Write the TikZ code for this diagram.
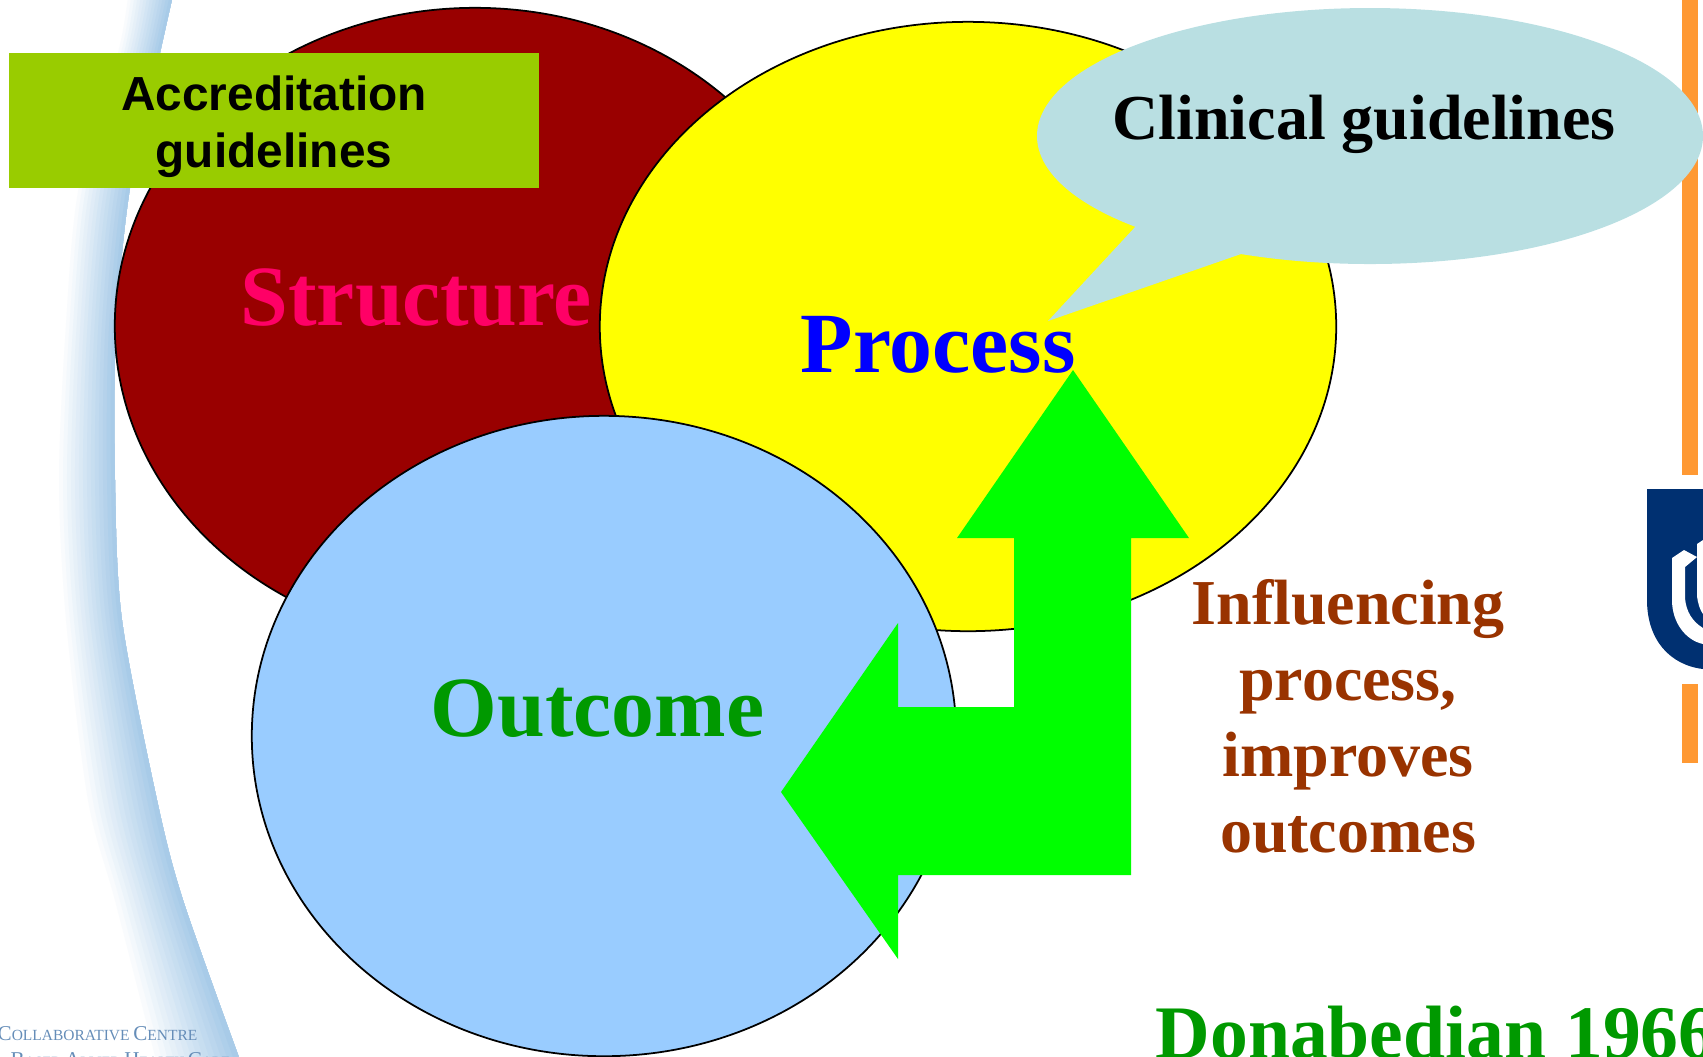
\documentclass[tikz,border=0pt]{standalone}
\usepackage{fontspec}
\setmainfont{Liberation Serif}
\newfontfamily\arialfont{Liberation Sans}
\usetikzlibrary{shapes,calc,positioning}

\definecolor{darkred}{HTML}{990000}
\definecolor{rosetext}{HTML}{FF0066}
\definecolor{brightyellow}{HTML}{FFFF00}
\definecolor{skyblue}{HTML}{99CCFF}
\definecolor{leafgreen}{HTML}{009900}
\definecolor{limegreen}{HTML}{00FF00}
\definecolor{olivebox}{HTML}{99CC00}
\definecolor{paleteal}{HTML}{B9DFE2}
\definecolor{rusttext}{HTML}{993300}
\definecolor{barorange}{HTML}{FF9933}
\definecolor{shieldblue}{HTML}{003071}
\definecolor{swooshblue}{HTML}{A8CBE8}

\newcommand{\footcap}[1]{{\fontsize{6}{6}\selectfont #1}}

\tikzset{
	circlebox/.style={ellipse,draw=black,line width=0.5pt,inner sep=0pt},
	biglabel/.style={font=\fontsize{24.4}{24.4}\selectfont\bfseries,anchor=base west,inner sep=0pt},
	midlabel/.style={font=\fontsize{18.2}{21.9}\selectfont\bfseries,align=center,inner sep=0pt},
	footlabel/.style={anchor=base west,inner sep=0pt,text=swooshblue!60!shieldblue}
}

\begin{document}
\begin{tikzpicture}[x=0.01cm,y=-0.01cm]
	\useasboundingbox (0,0) rectangle (1703,1056);
	\clip (0,0) rectangle (1703,1056);

	% swoosh at the left
	\foreach \k in {0,...,14}{
		\pgfmathsetmacro{\f}{\k/15}
		\pgfmathsetmacro{\m}{\k*100/14}
		\fill[swooshblue!\m!white] plot[smooth] coordinates {(173,-5) (160,53) (130,188) (116,330) (115,480) (122,620) (157,800) (183,900) (240,1060)}
			-- plot[smooth] coordinates {({240-90*(1-\f)},1060) ({183-73*(1-\f)},900) ({157-74*(1-\f)},800) ({122-60*(1-\f)},620) ({115-60*(1-\f)},480) ({116-54*(1-\f)},330) ({130-55*(1-\f)},188) ({160-45*(1-\f)},53) ({173-48*(1-\f)},-5)} -- cycle;
	}
	\node (centre) [footlabel,font=\fontsize{4.4}{5}\selectfont] at (-3,1040) {\footcap{C}OLLABORATIVE \footcap{C}ENTRE};
	\node (allied) [footlabel,font=\fontsize{4}{5}\selectfont] at (10,1066) {\footcap{B}ASED \footcap{A}LLIED \footcap{H}EALTH \footcap{C}ARE};

	% the three circles
	\node (structure) [circlebox,fill=darkred,minimum width=7.2cm,minimum height=6.36cm] at (475,326) {};
	\node (process) [circlebox,fill=brightyellow,minimum width=7.36cm,minimum height=6.09cm] at (968,326.5) {};
	\node (outcome) [circlebox,fill=skyblue,minimum width=7.04cm,minimum height=6.4cm] at (604,736) {};

	\node (structuretext) [biglabel,text=rosetext] at (240,325) {Structure};
	\node (processtext) [biglabel,text=blue] at (800,372) {Process};
	\node (outcometext) [biglabel,text=leafgreen] at (430,736) {Outcome};

	% double arrow
	\fill[limegreen] (1073,370) -- (1189,538) -- (1131,538) -- (1131,875) -- (898,875) -- (898,959) -- (781,792)
		-- (898,623) -- (898,707) -- (1014,707) -- (1014,538) -- (957,538) -- cycle;

	% logo and orange bars
	\fill[barorange] (1682,0) rectangle (1698,475);
	\fill[barorange] (1682,684) rectangle (1698,763);
	\fill[shieldblue] (1647,489) -- (1703,489) -- (1703,669) .. controls (1670,665) and (1647,640) .. (1647,600) -- cycle;
	\fill[white] (1672,558) -- (1684,550) -- (1697,557) -- (1685,567) -- (1685,598) .. controls (1686,612) and (1693,622) .. (1703,628)
		-- (1703,644) .. controls (1685,640) and (1672,622) .. (1672,600) -- cycle;
	\fill[white] (1703,540) -- (1697,544) -- (1697,596) .. controls (1698,604) and (1700,610) .. (1703,614) -- cycle;

	% boxes on top
	\node (accredbox) [fill=olivebox,minimum width=5.3cm,minimum height=1.35cm,inner sep=0pt] at (274,120.5) {};
	\node (accredtext) [inner sep=0pt,align=center,font=\arialfont\fontsize{13.6}{16.2}\selectfont\bfseries] at (274,126.5) {Accreditation\\guidelines};

	\fill[paleteal] (1370,136) ellipse (333 and 128);
	\coordinate (tailtip) at (1048,321);
	\fill[paleteal] (1136,226) -- (tailtip) -- (1241,254) -- cycle;
	\node (clinicaltext) [midlabel] at (1364,124) {Clinical guidelines};

	\node (influence) [midlabel,text=rusttext,anchor=base,font=\fontsize{18.2}{21.6}\selectfont\bfseries] at (1348,852) {Influencing\\process,\\improves\\outcomes};
	\node (donabedian) [biglabel,text=leafgreen,font=\fontsize{21.5}{21.5}\selectfont\bfseries] at (1155,1058) {Donabedian 1966};
\end{tikzpicture}
\end{document}
